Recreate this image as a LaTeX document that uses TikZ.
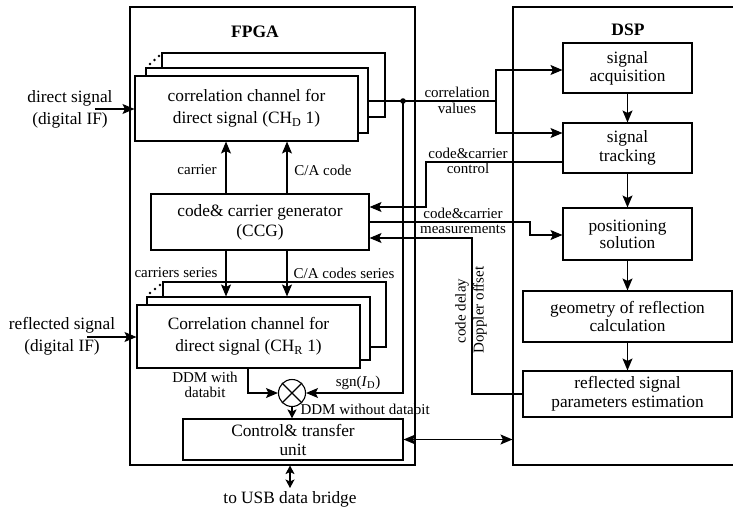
\documentclass[tikz,border=0pt]{standalone}
\usepackage{fontspec}
\setmainfont{Liberation Serif}
\usetikzlibrary{arrows.meta,calc}
\newcommand\bigf{\fontsize{17.3}{21}\selectfont}
\newcommand\smf{\fontsize{15}{15.5}\selectfont}
\begin{document}
\begin{tikzpicture}[x=1pt,y=-1pt,line width=1.1pt,
  box/.style={draw,rectangle,inner sep=0pt,align=center,font=\bigf},
  wbox/.style={box,fill=white},
  lbl/.style={inner sep=0pt,align=center,font=\smf},
  txt/.style={inner sep=0pt,align=center,font=\bigf},
  arr/.style={-{Stealth[length=12pt,width=10pt,inset=2.5pt]}},
  sarr/.style={-{Stealth[length=9pt,width=9pt,inset=2pt]}},
  darr/.style={{Stealth[length=12pt,width=10pt,inset=2.5pt]}-{Stealth[length=12pt,width=10pt,inset=2.5pt]}},
  sdarr/.style={{Stealth[length=8.5pt,width=9pt,inset=2pt]}-{Stealth[length=8.5pt,width=9pt,inset=2pt]}}]
\useasboundingbox (0,0) rectangle (733,508);
\clip (0,0) rectangle (733,508);
% outer blocks
\node[box,minimum width=285pt,minimum height=458pt] (fpga) at (272.5,236) {};
\node[box,minimum width=232pt,minimum height=458pt] (dsp) at (629,236) {};
\node[txt,font={\fontsize{17.5}{21}\selectfont\bfseries}] (fpgalbl) at (255,32) {FPGA};
\node[txt,font={\fontsize{17.5}{21}\selectfont\bfseries}] (dsplbl) at (628,30) {DSP};
% direct correlation channels
\node[box,minimum width=223pt,minimum height=64pt] (cDb) at (273.5,85) {};
\node[wbox,minimum width=222pt,minimum height=65pt] (cDm) at (257,100.5) {};
\node[wbox,minimum width=223pt,minimum height=65pt,font={\fontsize{17.3}{22}\selectfont}] (cDf) at (246.5,108.5)
  {correlation channel for\\direct signal (CH\textsubscript{D} 1)};
\fill (150,64) circle (1.4pt) (154.5,60) circle (1.4pt) (159,56) circle (1.4pt);
% reflected correlation channels
\node[box,minimum width=223pt,minimum height=65pt] (cRb) at (274.5,314.5) {};
\node[wbox,minimum width=223pt,minimum height=63pt] (cRm) at (258.5,328.5) {};
\node[wbox,minimum width=223pt,minimum height=63pt,font={\fontsize{17.3}{22}\selectfont}] (cRf) at (248.5,336.5)
  {Correlation channel for\\direct signal (CH\textsubscript{R} 1)};
\fill (150,293) circle (1.4pt) (155,289) circle (1.4pt) (160,285) circle (1.4pt);
% CCG
\node[box,minimum width=218pt,minimum height=56pt,font={\fontsize{17.3}{20}\selectfont}] (ccg) at (260,222)
  {code\& carrier generator\\(CCG)};
% control
\node[box,minimum width=220pt,minimum height=41pt,font={\fontsize{17.3}{19}\selectfont}] (ctl) at (293,439.5)
  {Control\& transfer\\unit};
% multiplier
\node[draw,circle,minimum size=27pt,inner sep=0pt] (mul) at (292,393) {};
\draw (mul.north west) -- (mul.south east) (mul.north east) -- (mul.south west);
% DSP blocks
\node[box,minimum width=129pt,minimum height=50pt,font={\fontsize{17.3}{18}\selectfont}] (acq) at (627.5,68) {signal\\acquisition};
\node[box,minimum width=129pt,minimum height=50pt,font={\fontsize{17.3}{19}\selectfont}] (trk) at (627.5,148) {signal\\tracking};
\node[box,minimum width=129pt,minimum height=52pt,font={\fontsize{17.3}{17}\selectfont}] (pos) at (627.5,234) {positioning\\solution};
\node[box,minimum width=209pt,minimum height=51pt,font={\fontsize{17.3}{18}\selectfont}] (geo) at (627.5,316.5) {geometry of reflection\\calculation};
\node[box,minimum width=209pt,minimum height=46pt,font={\fontsize{17.3}{19}\selectfont}] (ref) at (627.5,394) {reflected signal\\parameters estimation};
% inputs
\node[txt,font={\fontsize{17.3}{22}\selectfont}] (dinlbl) at (70,109) {direct signal\\(digital IF)};
\node[txt,font={\fontsize{17.3}{22}\selectfont}] (rinlbl) at (62,336) {reflected signal\\(digital IF)};
\coordinate (dIn) at (95,109);
\coordinate (rIn) at (87,337);
\draw[arr] (dIn) -- (dIn -| cDf.west);
\draw[arr] (rIn) -- (rIn -| cRf.west);
% carrier / code arrows
\coordinate (xcar) at (226,0);
\coordinate (xca) at (287,0);
\draw[arr] (ccg.north -| xcar) -- (cDf.south -| xcar);
\draw[arr] (ccg.north -| xca) -- (cDf.south -| xca);
\draw[arr] (ccg.south -| xcar) -- (cRm.north -| xcar);
\draw[arr] (ccg.south -| xca) -- (cRm.north -| xca);
\node[lbl] (carlbl) at (197,170) {carrier};
\node[lbl] (calbl) at (323,170) {C/A code};
\node[lbl] (carslbl) at (176,273) {carriers series};
\node[lbl] (caslbl) at (344,273) {C/A codes series};
% correlation values
\coordinate (jn) at (403,101);
\coordinate (br) at (496,101);
\coordinate (ya) at (0,70);
\coordinate (yt) at (0,133);
\draw (jn -| cDm.east) -- (br);
\fill (jn) circle (2.8pt);
\draw[arr] (br) |- (acq.west |- ya);
\draw[arr] (br) |- (trk.west |- yt);
\node[lbl] (cvlbl) at (457,100.5) {correlation\\values};
% sgn
\draw[arr] (jn) |- (mul.east);
\node[lbl] (sgnlbl) at (358,383) {sgn(\textit{I}\textsubscript{D})};
% DDM
\coordinate (xddm) at (248,0);
\draw[arr] (cRf.south -| xddm) |- (mul.west);
\node[lbl] (ddmlbl) at (205,385) {DDM with\\databit};
\draw[sarr] (mul.south) -- (ctl.north -| mul.south);
\node[lbl,anchor=west] (ddmolbl) at (300,409) {DDM without databit};
% control to DSP, USB
\draw[darr] (ctl.east) -- (ctl.east -| dsp.west);
\coordinate (usb) at (290,488);
\draw[sdarr] (fpga.south -| usb) -- (usb);
\node[lbl,font={\fontsize{17.3}{20}\selectfont}] (usblbl) at (290,499) {to USB data bridge};
% DSP chain
\draw[arr] (acq.south) -- (trk.north);
\draw[arr] (trk.south) -- (pos.north);
\draw[arr] (pos.south) -- (geo.north);
\draw[arr] (geo.south) -- (ref.north);
% code & carrier control
\coordinate (c1) at (426,162);
\coordinate (c2) at (426,207);
\draw[arr] (trk.west |- c1) -- (c1) -- (c2) -- (ccg.east |- c2);
\node[lbl] (ccclbl) at (468,161) {code\&carrier\\control};
% measurements
\coordinate (m1) at (530,222);
\coordinate (m2) at (530,235);
\draw[arr] (ccg.east |- m1) -- (m1) -- (m2) -- (pos.west |- m2);
\node[lbl] (cmlbl) at (463,221) {code\&carrier\\measurements};
% code delay / doppler
\coordinate (d2) at (472,238);
\draw[arr] (ref.west) -| (d2) -- (ccg.east |- d2);
\node[lbl,rotate=90] (cdlbl) at (462,311) {code delay};
\node[lbl,rotate=90] (dolbl) at (480,310) {Doppler offset};
\end{tikzpicture}
\end{document}
